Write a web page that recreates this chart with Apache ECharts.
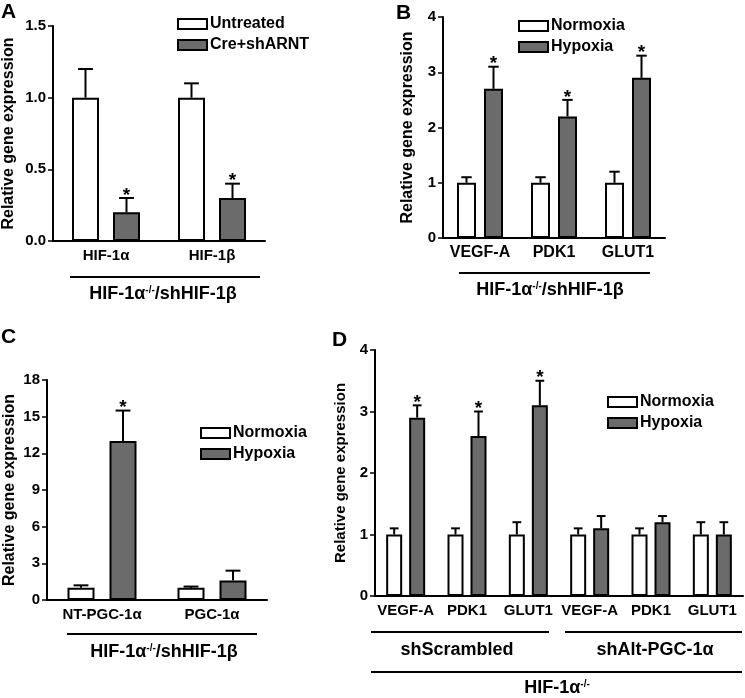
<!DOCTYPE html>
<html>
<head>
<meta charset="utf-8">
<style>
  html, body { margin: 0; padding: 0; background: #fff; }
  #main { width: 745px; height: 698px; }
</style>
<script src="https://cdn.jsdelivr.net/npm/echarts@6/dist/echarts.min.js"></script>
</head>
<body>
<div id="main"></div>
<script>
// ---- data ----
// A
const catsA = ['HIF-1α', 'HIF-1β'];
const untreatedA = [1.0, 1.0];
const untreatedErrA = [1.2, 1.1];
const creA = [0.2, 0.3];
const creErrA = [0.3, 0.4];
const creSigA = [1, 1];
const ticksA = [0, 0.5, 1.0, 1.5];
// B
const catsB = ['VEGF-A', 'PDK1', 'GLUT1'];
const normB = [1.0, 1.0, 1.0];
const normErrB = [1.1, 1.1, 1.2];
const hypB = [2.7, 2.2, 2.9];
const hypErrB = [3.1, 2.5, 3.3];
const hypSigB = [1, 1, 1];
const ticksB = [0, 1, 2, 3, 4];
// C
const catsC = ['NT-PGC-1α', 'PGC-1α'];
const normC = [1.0, 1.0];
const normErrC = [1.2, 1.1];
const hypC = [13.0, 1.6];
const hypErrC = [15.5, 2.4];
const hypSigC = [1, 0];
const ticksC = [0, 3, 6, 9, 12, 15, 18];
// D
const catsD = ['VEGF-A', 'PDK1', 'GLUT1', 'VEGF-A', 'PDK1', 'GLUT1'];
const normD = [1.0, 1.0, 1.0, 1.0, 1.0, 1.0];
const normErrD = [1.1, 1.1, 1.2, 1.1, 1.1, 1.2];
const hypD = [2.9, 2.6, 3.1, 1.1, 1.2, 1.0];
const hypErrD = [3.1, 3.0, 3.5, 1.3, 1.3, 1.2];
const hypSigD = [1, 1, 1, 0, 0, 0];
const ticksD = [0, 1, 2, 3, 4];

const FONT = '"Liberation Sans", Arial, sans-serif';
const WHITE = '#ffffff';
const GRAY = '#6b6b6b';

// grid layout + bar sizes per panel
const panels = [
  { left: 53, top: 26, width: 212, height: 215, barW: 27, gap: 14, lab: 15, nameGap: 36, nameSize: 16 },
  { left: 443, top: 17, width: 222, height: 221, barW: 19, gap: 8, lab: 16, nameGap: 27, nameSize: 16 },
  { left: 47, top: 380, width: 220, height: 220, barW: 27, gap: 15, lab: 15, nameGap: 29, nameSize: 16 },
  { left: 375, top: 350, width: 368, height: 246, barW: 16, gap: 7, lab: 15, nameGap: 27, nameSize: 15 }
];

function errData(vals, errs, sig) {
  return vals.map(function (v, i) {
    return [i, v, errs[i], sig ? sig[i] : 0];
  });
}

function errRender(p, first) {
  const off = (p.barW + p.gap) / 2 * (first ? -1 : 1);
  const cap = p.barW * 0.55;
  return function (params, api) {
    const i = api.value(0);
    const base = api.coord([i, api.value(1)]);
    const top = api.coord([i, api.value(2)]);
    const x = base[0] + off;
    const children = [
      { type: 'line', shape: { x1: x, y1: base[1], x2: x, y2: top[1] }, style: { stroke: '#000', lineWidth: 2 } },
      { type: 'line', shape: { x1: x - cap / 2, y1: top[1], x2: x + cap / 2, y2: top[1] }, style: { stroke: '#000', lineWidth: 2 } }
    ];
    if (api.value(3)) {
      children.push({
        type: 'text',
        style: { text: '*', x: x, y: top[1] + 7, align: 'center', verticalAlign: 'bottom', font: 'bold 19px ' + FONT, fill: '#000' }
      });
    }
    return { type: 'group', children: children };
  };
}

function barSeries(name, idx, vals, color) {
  const p = panels[idx];
  return {
    name: name,
    type: 'bar',
    xAxisIndex: idx,
    yAxisIndex: idx,
    barWidth: p.barW,
    barGap: (p.gap / p.barW * 100) + '%',
    data: vals,
    itemStyle: { color: color, borderColor: '#000', borderWidth: 2 },
    emphasis: { disabled: true },
    z: 2
  };
}

function errSeries(idx, vals, errs, sig, first) {
  return {
    type: 'custom',
    xAxisIndex: idx,
    yAxisIndex: idx,
    renderItem: errRender(panels[idx], first),
    data: errData(vals, errs, sig),
    encode: { x: 0, y: [1, 2] },
    silent: true,
    z: 3
  };
}

function xAxis(idx, cats) {
  return {
    type: 'category',
    gridIndex: idx,
    data: cats,
    axisLine: { lineStyle: { color: '#000', width: 2 } },
    axisTick: { alignWithLabel: true, length: 5, lineStyle: { color: '#000', width: 1.5 } },
    axisLabel: { color: '#000', fontWeight: 'bold', fontFamily: FONT, fontSize: panels[idx].lab, margin: 7, interval: 0 }
  };
}

function yAxis(idx, ticks, fmt) {
  return {
    type: 'value',
    gridIndex: idx,
    min: ticks[0],
    max: ticks[ticks.length - 1],
    interval: ticks[1] - ticks[0],
    name: 'Relative gene expression',
    nameLocation: 'middle',
    nameGap: panels[idx].nameGap,
    nameTextStyle: { color: '#000', fontWeight: 'bold', fontFamily: FONT, fontSize: panels[idx].nameSize },
    axisLine: { show: true, lineStyle: { color: '#000', width: 2 } },
    axisTick: { show: true, length: 5, lineStyle: { color: '#000', width: 1.5 } },
    splitLine: { show: false },
    axisLabel: {
      color: '#000', fontWeight: 'bold', fontFamily: FONT, fontSize: 15, margin: 7,
      formatter: fmt || function (v) { return String(v); }
    }
  };
}

function legend(left, top, names) {
  return {
    orient: 'vertical',
    left: left,
    top: top,
    padding: 0,
    itemWidth: 29,
    itemHeight: 10,
    itemGap: 5,
    icon: 'rect',
    selectedMode: false,
    textStyle: { color: '#000', fontWeight: 'bold', fontFamily: FONT, fontSize: 16, padding: [0, 0, 0, -2] },
    data: [
      { name: names[0], itemStyle: { color: WHITE, borderColor: '#000', borderWidth: 2 } },
      { name: names[1], itemStyle: { color: GRAY, borderColor: '#000', borderWidth: 2 } }
    ]
  };
}

const supRich = {
  a: { fontSize: 18, fontWeight: 'bold', fontFamily: FONT, fill: '#000' },
  s: { fontSize: 10, fontWeight: 'bold', fontFamily: FONT, fill: '#000', verticalAlign: 'top', padding: [0, 0, 8, 0] }
};

function groupTitle(cx, cy, text) {
  return {
    type: 'text', x: cx, y: cy,
    style: { text: text, rich: supRich, align: 'center', verticalAlign: 'middle' }
  };
}
function hline(x1, x2, y) {
  return { type: 'line', shape: { x1: x1, y1: y, x2: x2, y2: y }, style: { stroke: '#000', lineWidth: 2 } };
}
function plainText(x, y, text, size, align) {
  return {
    type: 'text', x: x, y: y,
    style: { text: text, font: 'bold ' + size + 'px ' + FONT, fill: '#000', align: align || 'left', verticalAlign: 'top' }
  };
}

const chart = echarts.init(document.getElementById('main'), null, { renderer: 'canvas' });

var option = {
  backgroundColor: '#fff',
  animation: false,
  grid: panels.map(function (p) {
    return { left: p.left, top: p.top, width: p.width, height: p.height };
  }),
  xAxis: [xAxis(0, catsA), xAxis(1, catsB), xAxis(2, catsC), xAxis(3, catsD)],
  yAxis: [
    yAxis(0, ticksA, function (v) { return v.toFixed(1); }),
    yAxis(1, ticksB),
    yAxis(2, ticksC),
    yAxis(3, ticksD)
  ],
  legend: [
    legend(177, 16, ['Untreated', 'Cre+shARNT']),
    legend(518, 18, ['Normoxia', 'Hypoxia']),
    legend(200, 425, ['Normoxia', 'Hypoxia']),
    legend(607, 394, ['Normoxia', 'Hypoxia'])
  ],
  series: [
    // A
    barSeries('Untreated', 0, untreatedA, WHITE),
    barSeries('Cre+shARNT', 0, creA, GRAY),
    errSeries(0, untreatedA, untreatedErrA, null, true),
    errSeries(0, creA, creErrA, creSigA, false),
    // B
    barSeries('Normoxia', 1, normB, WHITE),
    barSeries('Hypoxia', 1, hypB, GRAY),
    errSeries(1, normB, normErrB, null, true),
    errSeries(1, hypB, hypErrB, hypSigB, false),
    // C
    barSeries('Normoxia', 2, normC, WHITE),
    barSeries('Hypoxia', 2, hypC, GRAY),
    errSeries(2, normC, normErrC, null, true),
    errSeries(2, hypC, hypErrC, hypSigC, false),
    // D
    barSeries('Normoxia', 3, normD, WHITE),
    barSeries('Hypoxia', 3, hypD, GRAY),
    errSeries(3, normD, normErrD, null, true),
    errSeries(3, hypD, hypErrD, hypSigD, false)
  ],
  graphic: [
    // panel letters
    plainText(1, 2, 'A', 21),
    plainText(396, 3, 'B', 21),
    plainText(1, 327, 'C', 21),
    plainText(332, 330, 'D', 21),
    // group lines + titles
    hline(70, 260, 277),
    groupTitle(163, 294, '{a|HIF-1α}{s|-/-}{a|/shHIF-1β}'),
    hline(459, 650, 273),
    groupTitle(550, 290, '{a|HIF-1α}{s|-/-}{a|/shHIF-1β}'),
    hline(67, 257, 634),
    groupTitle(164, 652, '{a|HIF-1α}{s|-/-}{a|/shHIF-1β}'),
    hline(371, 549, 632),
    hline(565, 742, 632),
    groupTitle(457, 650, '{a|shScrambled}'),
    groupTitle(655, 650, '{a|shAlt-PGC-1α}'),
    hline(371, 742, 672),
    groupTitle(557, 688, '{a|HIF-1α}{s|-/-}')
  ]
};

chart.setOption(option);
</script>
</body>
</html>
